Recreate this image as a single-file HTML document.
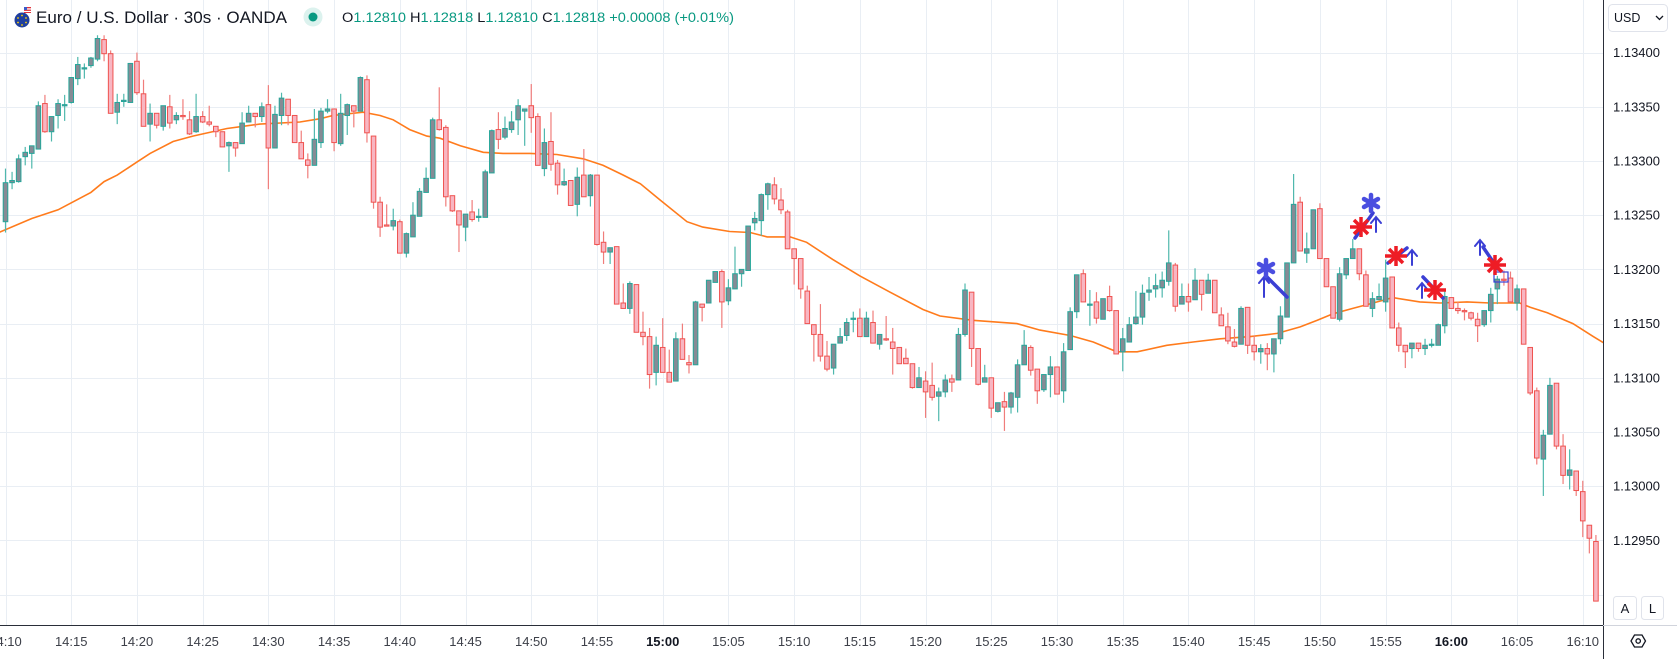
<!DOCTYPE html>
<html><head><meta charset="utf-8"><title>EURUSD 30s</title>
<style>
html,body{margin:0;padding:0;background:#fff;}
svg{display:block;font-family:"Liberation Sans",sans-serif;}
</style></head>
<body>
<svg id="chart" width="1677" height="659" viewBox="0 0 1677 659" xmlns="http://www.w3.org/2000/svg">
  <defs><clipPath id="plotClip"><rect x="0" y="0" width="1603" height="625"/></clipPath></defs>
  <rect x="0" y="0" width="1677" height="659" fill="#ffffff"/>
  <g id="grid"></g>
  <g id="plot" clip-path="url(#plotClip)">
    <path id="maLine" fill="none" stroke="#ff7b1c" stroke-width="1.6"/>
    <g id="candles"></g>
    <g id="drawings">
      <g stroke="#3b3fd4" stroke-width="3.5" stroke-linecap="round" fill="none">
        <line x1="1266" y1="276" x2="1287" y2="297"/>
        <line x1="1355" y1="238" x2="1373" y2="213"/>
        <line x1="1388" y1="263" x2="1407" y2="248"/>
        <line x1="1423" y1="277" x2="1443" y2="298"/>
        <line x1="1483" y1="247" x2="1498" y2="269"/>
      </g>
      <g stroke="#3b3fd4" stroke-width="2" stroke-linecap="round" fill="none">
        <path d="M1264 297 V278 M1259 283 L1264 277 L1269 283"/>
        <path d="M1376 232 V218 M1371 223 L1376 217 L1381 223"/>
        <path d="M1412 265 V251 M1407 256 L1412 250 L1417 256"/>
        <path d="M1422 298 V284 M1417 289 L1422 283 L1427 289"/>
        <path d="M1480 255 V241 M1475 246 L1480 240 L1485 246"/>
        <rect x="1494" y="272" width="14" height="10" stroke-width="1.2"/>
      </g>
      <g stroke="#4a4ee0" stroke-width="4.5" stroke-linecap="round">
        <g transform="translate(1266,268)"><line x1="0" y1="-8" x2="0" y2="8"/><line x1="-7" y1="-4" x2="7" y2="4"/><line x1="-7" y1="4" x2="7" y2="-4"/></g>
        <g transform="translate(1371,203)"><line x1="0" y1="-8" x2="0" y2="8"/><line x1="-7" y1="-4" x2="7" y2="4"/><line x1="-7" y1="4" x2="7" y2="-4"/></g>
      </g>
      <g stroke="#ee1c25" stroke-width="3.5" stroke-linecap="butt">
        <g transform="translate(1361,227)"><line x1="-11" y1="0" x2="11" y2="0"/><line x1="0" y1="-10" x2="0" y2="10"/><line x1="-7" y1="-7" x2="7" y2="7"/><line x1="-7" y1="7" x2="7" y2="-7"/></g>
        <g transform="translate(1396,256)"><line x1="-11" y1="0" x2="11" y2="0"/><line x1="0" y1="-10" x2="0" y2="10"/><line x1="-7" y1="-7" x2="7" y2="7"/><line x1="-7" y1="7" x2="7" y2="-7"/></g>
        <g transform="translate(1435,290)"><line x1="-11" y1="0" x2="11" y2="0"/><line x1="0" y1="-10" x2="0" y2="10"/><line x1="-7" y1="-7" x2="7" y2="7"/><line x1="-7" y1="7" x2="7" y2="-7"/></g>
        <g transform="translate(1495,265)"><line x1="-11" y1="0" x2="11" y2="0"/><line x1="0" y1="-10" x2="0" y2="10"/><line x1="-7" y1="-7" x2="7" y2="7"/><line x1="-7" y1="7" x2="7" y2="-7"/></g>
      </g>
    </g>
  </g>
  <!-- axes borders -->
  <line x1="1603.5" y1="0" x2="1603.5" y2="659" stroke="#2a2e39" stroke-width="1"/>
  <line x1="0" y1="625.5" x2="1603" y2="625.5" stroke="#2a2e39" stroke-width="1"/>
  <line x1="1603" y1="625.5" x2="1677" y2="625.5" stroke="#d1d4dc" stroke-width="1"/>
  <g id="yLabels" font-size="13" fill="#131722"></g>
  <g id="xLabels" font-size="13" fill="#131722"></g>

  <!-- header -->
  <g>
    <g>
      <circle cx="22" cy="20" r="7.5" fill="#1f3f9e"/>
      <circle cx="22" cy="15.5" r="0.9" fill="#ffd200"/><circle cx="26" cy="18" r="0.9" fill="#ffd200"/><circle cx="26" cy="22.5" r="0.9" fill="#ffd200"/><circle cx="22" cy="25" r="0.9" fill="#ffd200"/><circle cx="18" cy="22.5" r="0.9" fill="#ffd200"/><circle cx="18" cy="18" r="0.9" fill="#ffd200"/>
      <rect x="24" y="7" width="7" height="6" fill="#ffffff"/>
      <rect x="24" y="7" width="7" height="1.3" fill="#e0323c"/><rect x="24" y="9.6" width="7" height="1.3" fill="#e0323c"/><rect x="24" y="12" width="7" height="1" fill="#e0323c"/>
      <rect x="24" y="7" width="3" height="3" fill="#3c5bc8"/>
    </g>
    <text x="36" y="23" font-size="17" fill="#131722" textLength="251" lengthAdjust="spacingAndGlyphs">Euro / U.S. Dollar · 30s · OANDA</text>
    <circle cx="313" cy="17" r="9.5" fill="#dcf2ee"/>
    <circle cx="313" cy="17" r="4.5" fill="#089981"/>
    <text x="342" y="22" font-size="13.5" textLength="392" lengthAdjust="spacingAndGlyphs"><tspan fill="#131722">O</tspan><tspan fill="#089981">1.12810 </tspan><tspan fill="#131722">H</tspan><tspan fill="#089981">1.12818 </tspan><tspan fill="#131722">L</tspan><tspan fill="#089981">1.12810 </tspan><tspan fill="#131722">C</tspan><tspan fill="#089981">1.12818 +0.00008 (+0.01%)</tspan></text>
  </g>

  <!-- currency selector -->
  <g>
    <rect x="1608.5" y="4.5" width="59" height="27" rx="4" fill="#fff" stroke="#e0e3eb"/>
    <text x="1614" y="22" font-size="12.5" fill="#131722">USD</text>
    <path d="M1656 16 L1659.5 19.5 L1663 16" fill="none" stroke="#131722" stroke-width="1.3"/>
  </g>
  <rect x="1604" y="585" width="73" height="40" fill="#fff"/>
  <g>
    <rect x="1613.5" y="596.5" width="23" height="23" rx="3" fill="#fff" stroke="#e0e3eb"/>
    <text x="1625" y="613" font-size="13" fill="#131722" text-anchor="middle">A</text>
  </g>
  <g>
    <rect x="1641.5" y="596.5" width="22" height="23" rx="3" fill="#fff" stroke="#e0e3eb"/>
    <text x="1652.5" y="613" font-size="13" fill="#131722" text-anchor="middle">L</text>
  </g>
  <g fill="none" stroke="#131722" stroke-width="1.3">
    <path d="M1631 641 L1634.5 635 L1642 635 L1645.5 641 L1642 647 L1634.5 647 Z"/>
    <circle cx="1638.2" cy="641" r="2.2"/>
  </g>
</svg>
<script>
// price values expressed in points: price = 1.13 + pts / 100000
const openPts = [
244,280,281,304,307,311,353,327,342,351, 354,376,385,388,394,412,399,345,355,354,
392,362,334,344,332,350,338,342,338,327, 341,336,332,327,314,317,316,336,344,341,
352,312,342,357,342,317,301,296,317,346, 348,316,342,351,346,375,323,262,241,240,
244,215,230,249,271,284,338,331,268,254, 239,253,248,248,289,329,322,329,338,346,
351,341,293,318,298,278,282,260,287,268, 287,225,216,221,169,164,186,142,138,105,
128,105,97,136,114,112,168,169,188,198, 171,182,196,199,243,245,269,278,264,253,
219,210,180,149,140,120,109,132,139,154, 155,138,151,131,136,133,128,118,113,91,
97,93,83,87,99,98,140,179,127,96, 100,69,78,73,82,112,128,108,89,103,
110,88,126,161,196,167,170,154,175,162, 124,133,150,156,179,182,183,189,204,168,
175,172,190,178,190,158,147,133,131,165, 130,124,127,122,136,156,206,262,215,219,
256,210,184,154,195,210,219,195,164,172, 170,193,146,130,127,132,127,130,130,148,
174,164,162,160,154,149,162,182,191,192, 169,182,128,88,25,48,95,37,10,14,
-5,-36,-51];
const highPts = [
293,290,306,313,314,355,361,341,357,361, 377,396,390,396,416,416,402,362,362,390,
400,375,353,344,351,361,345,357,346,362, 346,351,332,327,318,317,345,351,344,354,
370,351,363,357,342,328,307,348,349,357, 348,362,353,351,378,379,323,267,260,256,
246,234,262,275,294,340,368,333,268,254, 251,264,256,292,329,345,341,346,357,348,
371,344,330,345,301,293,282,294,311,288, 287,235,220,221,187,189,186,161,146,138,
155,126,142,150,121,171,168,190,198,200, 191,221,200,240,253,270,280,285,275,255,
219,210,185,149,168,134,131,146,155,161, 164,161,162,140,157,146,128,127,113,110,
106,114,91,103,103,146,187,179,127,112, 100,77,87,87,117,144,130,108,103,120,
110,132,165,195,200,181,179,173,185,162, 146,156,180,186,193,196,198,236,206,187,
187,201,190,196,190,165,160,145,166,165, 139,131,132,136,166,206,288,267,234,255,
261,210,184,202,210,228,219,199,179,187, 209,193,151,130,132,132,136,136,150,182,
174,170,164,161,160,162,183,194,199,198, 186,182,128,91,52,100,95,48,34,14,
5,-36,-45];
const lowPts = [
234,274,280,296,293,311,326,318,330,337, 353,370,376,386,392,392,344,334,350,354,
361,332,318,330,328,330,334,338,324,326, 335,332,322,313,290,304,316,336,331,336,
274,312,333,333,317,302,284,296,312,344, 309,314,324,331,346,317,256,230,240,236,
215,211,230,249,271,284,328,258,253,216, 226,244,244,248,289,311,320,326,324,314,
326,296,286,291,269,277,259,249,267,258, 222,205,205,168,164,159,142,130,90,93,
105,96,97,117,104,112,152,169,188,146, 167,182,184,199,236,231,255,260,251,219,
186,173,150,115,115,106,103,132,134,142, 138,138,132,126,134,103,113,113,90,91,
63,79,60,82,87,98,138,110,93,96, 63,68,51,67,68,112,102,76,87,82,
85,77,126,155,170,148,150,154,161,122, 106,133,149,149,171,174,174,185,161,168,
161,172,162,178,160,148,131,128,131,122, 116,113,107,105,131,156,206,217,206,219,
210,184,155,152,191,210,190,166,156,172, 161,146,124,109,118,124,121,128,130,141,
164,159,153,153,133,147,151,168,185,170, 162,131,84,20,-9,48,34,2,-3,-9,
-47,-62,-106];
const closePts = [
280,282,302,308,314,351,327,341,353,352, 377,389,386,395,413,399,344,354,356,390,
363,332,344,333,351,335,342,341,325,341, 336,334,327,313,317,312,335,344,341,350,
312,343,358,342,317,302,296,320,346,348, 317,344,352,346,377,326,262,239,240,245,
215,233,250,272,284,338,329,267,254,241, 251,246,249,290,328,320,330,336,351,348,
340,296,317,297,278,281,259,285,267,287, 223,216,220,168,164,187,142,138,103,130,
105,96,136,117,112,170,165,190,198,170, 183,196,200,240,247,269,279,265,255,219,
210,182,150,140,120,108,131,138,151,155, 138,155,132,140,135,127,113,113,91,100,
87,82,87,98,96,140,181,127,94,100, 72,77,73,86,112,130,107,88,103,110,
85,124,161,195,170,168,155,173,162,122, 136,149,156,178,181,185,190,206,166,175,
170,190,177,190,160,148,134,129,164,130, 124,127,122,136,157,206,260,217,219,255,
210,184,155,196,210,219,196,166,173,175, 192,146,130,124,132,127,130,131,149,175,
164,162,161,155,148,162,177,191,190,170, 182,131,86,26,47,93,37,10,15,-4,
-32,-48,-106];
// moving average: candle index and value (points)
const maIndex = [-1,4,8,13,15,17,20,22,25.5,28.5,33.7,38.7,44.8,47.9,49.8,54.4,57,59,61.5,64.1,66.1,69.2,72.7,75.7,79.8,83.9,87.9,90.9,94,96.6,99.6,103.7,106.1,110.2,113.3,115.9,119.4,121.9,125.9,130,134.6,139.6,142.2,147.2,153.9,157.4,162,165.5,169.1,172.2,176.7,180.7,184.8,189.4,193.5,197,199.6,202,205,208.1,211.1,215.2,218.3,222.4,225.9,230.4,232,234.6,238.5,241.6,243.5];
const maValue = [234,247,255,271,281,287,299,307,318,323,330,334,336,339,342,345,342,338,329,323,321,314,308,307,307,306,302,296,287,279,264,244,239,235,234,230,230,225,209,194,179,163,157,153,150,144,139,133,124,124,130,133,136,138,141,147,153,159,164,169,174,170,169,170,169,169,165,160,150,138,131];
const priceTicks = [1.134,1.1335,1.133,1.1325,1.132,1.1315,1.131,1.1305,1.13,1.1295,1.129];
const timeTicks = ["14:10","14:15","14:20","14:25","14:30","14:35","14:40","14:45","14:50","14:55","15:00","15:05","15:10","15:15","15:20","15:25","15:30","15:35","15:40","15:45","15:50","15:55","16:00","16:05","16:10"];

const NS = "http://www.w3.org/2000/svg";
function toPrice(pts){ return 1.13 + pts/100000; }
function yScale(p){ return 52.6 + (1.134 - p) / 0.0005 * 54.2; }
function xScale(i){ return 5.5 + i * 6.572; }
function mk(tag, attrs, parent){ const e=document.createElementNS(NS,tag); for(const k in attrs) e.setAttribute(k, attrs[k]); parent.appendChild(e); return e; }

const grid = document.getElementById('grid');
const yLab = document.getElementById('yLabels');
priceTicks.forEach(function(p){
  const y = Math.round(yScale(p)) + 0.5;
  const gl = mk('line', {x1:0, x2:1603, y1:y, y2:y, stroke:'#e9eef4', 'stroke-width':1}, grid);
  
  
  const t = mk('text', {x:1613, y:yScale(p)+4.5}, yLab);
  
  
  t.textContent = p.toFixed(5);
});
const xLab = document.getElementById('xLabels');
timeTicks.forEach(function(lbl, k){
  const x = xScale(k*10);
  const gl = mk('line', {x1:Math.round(x)+0.5, x2:Math.round(x)+0.5, y1:0, y2:625, stroke:'#e9eef4', 'stroke-width':1}, grid);
  
  
  const bold = (lbl === '15:00' || lbl === '16:00');
  const t = mk('text', {x:x, y:646, 'text-anchor':'middle', 'font-weight': bold ? 'bold' : 'normal', fill: bold ? '#131722' : '#3d4049'}, xLab);
  
  
  t.textContent = lbl;
});

// moving average
let d = '';
maIndex.forEach(function(ix, k){ d += (k ? ' L' : 'M') + xScale(ix).toFixed(1) + ' ' + yScale(toPrice(maValue[k])).toFixed(1); });
document.getElementById('maLine').setAttribute('d', d);

// candles
const cg = document.getElementById('candles');
for (let i = 0; i < openPts.length; i++) {
  const o = toPrice(openPts[i]), c = toPrice(closePts[i]), h = toPrice(highPts[i]), l = toPrice(lowPts[i]);
  const up = c >= o;
  const x = xScale(i);
  const g = mk('g', {}, cg);
  
  
  const stroke = up ? '#26a69a' : '#ef5350';
  mk('line', {x1:x, x2:x, y1:yScale(h), y2:yScale(l), stroke: up ? '#4fb8ad' : '#f07d7b', 'stroke-width':1.2}, g);
  const yt = yScale(Math.max(o,c)), yb = yScale(Math.min(o,c));
  mk('rect', {x:x-2.3, y:yt, width:4.6, height:Math.max(1.2, yb-yt), fill: up ? '#868b95' : '#f8b6c2', stroke: stroke, 'stroke-width':1}, g);
}
</script>
</body></html>
